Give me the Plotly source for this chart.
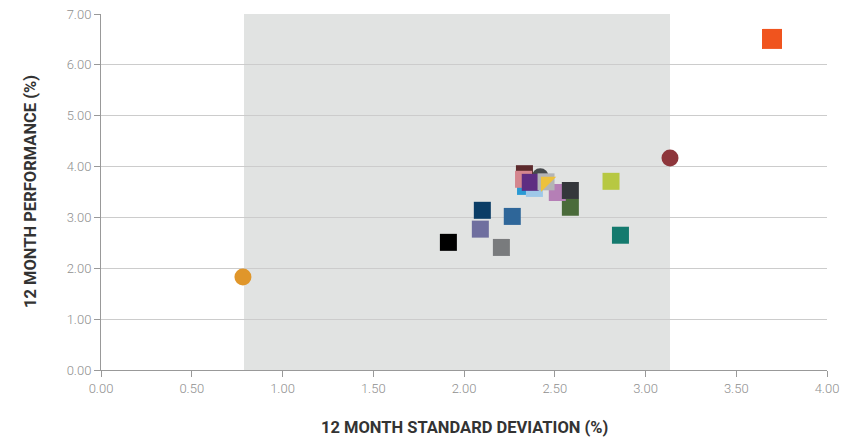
import plotly.graph_objects as go

# 12-month risk / return points
std_dev = [1.914, 2.206, 2.090, 2.101, 2.266, 2.862, 2.810, 2.586, 2.514, 2.586,
           2.420, 2.333, 2.339, 2.328, 2.388, 2.365, 2.452, 2.452, 3.697, 0.782, 3.135]
performance = [2.51, 2.41, 2.77, 3.14, 3.02, 2.65, 3.71, 3.20, 3.49, 3.53,
               3.80, 3.86, 3.61, 3.75, 3.57, 3.69, 3.70, 3.70, 6.51, 1.83, 4.17]
colors = ["#000000", "#797b7d", "#6f6f9f", "#0a3d66", "#2e6699", "#147a6e", "#b7c842",
          "#4a6b3a", "#b57fb6", "#34373b", "#474a4d", "#5c2a2c", "#2a9ad4", "#d4868e",
          "#9ec8e8", "#5e2d82", "#b3b4b6", "#edc13c", "#f0541e", "#e0962a", "#8e363b"]
symbols = ["square"] * 10 + ["circle"] + ["square"] * 6 + ["triangle-nw", "square", "circle", "circle"]
sizes = [17] * 18 + [20, 17, 17]

# shaded band spans the two circles (min / max of the peer range)
band_lo, band_hi = 0.788, 3.135

x_title = "12 MONTH STANDARD DEVIATION (%)"
y_title = "12 MONTH PERFORMANCE (%)"

fig = go.Figure()
fig.add_shape(type="rect", xref="x", yref="y", x0=band_lo, x1=band_hi, y0=0, y1=7,
              fillcolor="#e1e3e2", line_width=0, layer="below")

fig.add_trace(go.Scatter(
    x=std_dev, y=performance, mode="markers",
    marker=dict(color=colors, symbol=symbols, size=sizes, line=dict(width=0), opacity=1),
    hoverinfo="x+y", showlegend=False,
))

tick_font = dict(family="Roboto", size=13, color="#8f8f8f", weight=300)
title_font = dict(family="Roboto", size=16.5, color="#333333", weight="bold")

fig.update_layout(
    width=852, height=438,
    margin=dict(l=101, r=25, t=14, b=68),
    plot_bgcolor="white", paper_bgcolor="white",
    xaxis=dict(
        range=[0, 4], dtick=0.5, tickformat=".2f", showgrid=False, zeroline=False,
        showline=True, linecolor="#999999", linewidth=1, automargin=False,
        ticks="outside", ticklen=6, tickcolor="#999999",
        tickfont=tick_font,
    ),
    yaxis=dict(
        range=[0, 7], dtick=1, tickformat=".2f", showgrid=True, gridcolor="#cccccc",
        zeroline=False, showline=True, linecolor="#999999", linewidth=1, automargin=False,
        ticks="outside", ticklen=6, tickcolor="#999999",
        tickfont=tick_font,
    ),
    annotations=[
        dict(text=x_title, xref="paper", yref="paper", x=0.5, y=0, yshift=-57,
             xanchor="center", yanchor="middle", showarrow=False, font=title_font),
        dict(text=y_title, xref="paper", yref="paper", x=0, y=0.5, xshift=-71,
             xanchor="center", yanchor="middle", textangle=-90, showarrow=False,
             font=title_font),
    ],
)

# drop the default 8px body margin so the figure fills the window exactly
fig.write_html("out.html", config={"displayModeBar": False},
               post_script="document.body.style.margin='0';")
